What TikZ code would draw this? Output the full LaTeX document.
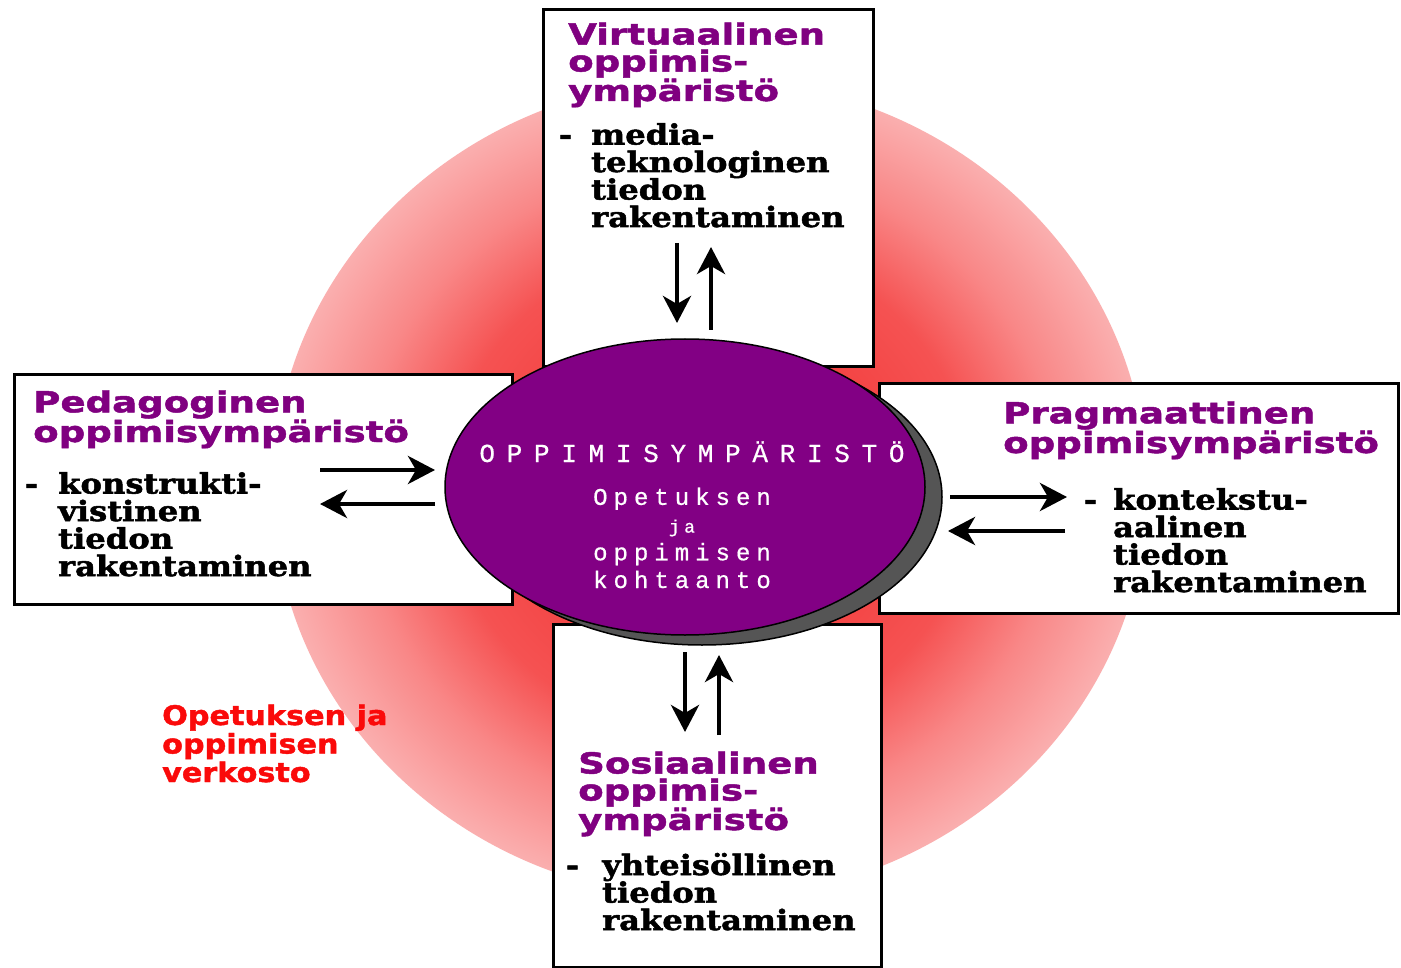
\documentclass[tikz,border=0pt]{standalone}
\usepackage{fontspec}
\usetikzlibrary{arrows.meta,shapes.geometric}
\newfontfamily\ttlfont[FakeStretch=1.28,FakeBold=1.6]{DejaVu Sans}
\newfontfamily\redfont[FakeStretch=1.12,FakeBold=1.6]{DejaVu Sans}
\newfontfamily\bodyfont[FakeStretch=1.15,FakeBold=1.8]{DejaVu Serif}
\newfontfamily\ctrfontA[LetterSpace=45,FakeBold=0.6]{Liberation Mono}
\newfontfamily\ctrfontB[LetterSpace=25,FakeBold=0.6]{Liberation Mono}
\definecolor{ttlpurple}{RGB}{128,0,128}
\definecolor{corepurple}{RGB}{130,0,132}
\definecolor{shadowgray}{RGB}{85,85,85}
\definecolor{glowA}{RGB}{240,40,40}
\definecolor{glowB}{RGB}{245,82,82}
\definecolor{glowC}{RGB}{249,135,135}
\definecolor{glowD}{RGB}{250,175,175}
\definecolor{txtred}{RGB}{250,10,10}
\pgfdeclareradialshading{glow}{\pgfpoint{0bp}{0bp}}{color(0bp)=(glowA); color(15bp)=(glowB); color(20bp)=(glowC); color(25bp)=(glowD); color(50bp)=(glowD)}
\begin{document}
\begin{tikzpicture}[x=1pt,y=-1pt,
  box/.style={draw=black, line width=3pt, fill=white, anchor=north west, inner sep=0pt},
  ttl/.style={font=\ttlfont\bfseries\fontsize{29}{27}\selectfont, text=ttlpurple, align=left, inner sep=0pt, anchor=base west},
  bodytxt/.style={font=\bodyfont\bfseries\fontsize{28}{27.5}\selectfont, text=black, align=left, inner sep=0pt, anchor=base west},
  redtxt/.style={font=\redfont\bfseries\fontsize{27}{28.5}\selectfont, text=txtred, align=left, inner sep=0pt, anchor=base west},
  arr/.style={line width=4.5pt, -{Stealth[length=27pt,width=28pt,inset=8pt]}},
  core/.style={ellipse, draw=black, line width=1.5pt, minimum width=480pt, minimum height=296pt, inner sep=0pt}]
\useasboundingbox (0,0) rectangle (1401,968);
\fill[white] (0,0) rectangle (1401,968);
% background glow
\shade[shading=glow] (710,489) ellipse [x radius=437, y radius=410];
% boxes
\node[box, minimum width=330pt, minimum height=357pt] (topbox) at (542,8) {};
\node[box, minimum width=498pt, minimum height=230pt] (leftbox) at (13,373) {};
\node[box, minimum width=519pt, minimum height=230pt] (rightbox) at (878,382) {};
\node[box, minimum width=328pt, minimum height=343pt] (bottombox) at (552,623) {};
% texts (anchor = baseline of the last line)
\node[ttl] (vtitle) at (568,101) {Virtuaalinen\\oppimis-\\ympäristö};
\node[bodytxt] (vbody) at (591,227) {\llap{-\hspace{19pt}}media-\\teknologinen\\tiedon\\rakentaminen};
\node[ttl] (ptitle) at (33,442) {Pedagoginen\\oppimisympäristö};
\node[bodytxt] (pbody) at (58,576) {\llap{-\hspace{20pt}}konstrukti-\\vistinen\\tiedon\\rakentaminen};
\node[ttl] (rtitle) at (1003,453) {Pragmaattinen\\oppimisympäristö};
\node[bodytxt] (rbody) at (1113,592) {\llap{-\hspace{16pt}}kontekstu-\\aalinen\\tiedon\\rakentaminen};
\node[ttl] (stitle) at (578,830) {Sosiaalinen\\oppimis-\\ympäristö};
\node[bodytxt] (sbody) at (602,930) {\llap{-\hspace{23pt}}yhteisöllinen\\tiedon\\rakentaminen};
\node[redtxt] (network) at (162,782) {Opetuksen ja\\oppimisen\\verkosto};
% arrows
\coordinate (t1s) at (677,243); \coordinate (t1e) at (677,323);
\coordinate (t2s) at (711,330); \coordinate (t2e) at (711,247);
\coordinate (l1s) at (320,470); \coordinate (l1e) at (435,470);
\coordinate (l2s) at (435,504); \coordinate (l2e) at (320,504);
\coordinate (r1s) at (950,497); \coordinate (r1e) at (1067,497);
\coordinate (r2s) at (1065,531); \coordinate (r2e) at (948,531);
\coordinate (b1s) at (685,652); \coordinate (b1e) at (685,732);
\coordinate (b2s) at (719,735); \coordinate (b2e) at (719,655);
\draw[arr] (t1s) -- (t1e);
\draw[arr] (t2s) -- (t2e);
\draw[arr] (l1s) -- (l1e);
\draw[arr] (l2s) -- (l2e);
\draw[arr] (r1s) -- (r1e);
\draw[arr] (r2s) -- (r2e);
\draw[arr] (b1s) -- (b1e);
\draw[arr] (b2s) -- (b2e);
% central ellipse
\node[core, fill=shadowgray] (coreshadow) at (702,497) {};
\node[core, fill=corepurple] (corenode) at (685,487) {};
\node[font=\ctrfontA\fontsize{26}{27}\selectfont, text=white, inner sep=0pt, anchor=base] (ctitle) at (692,462) {OPPIMISYMPÄRISTÖ};
\node[font=\ctrfontB\fontsize{24}{27.7}\selectfont, text=white, inner sep=0pt, anchor=base, align=center] (ctext) at (682,588) {Opetuksen\\{\fontsize{18}{27.7}\selectfont ja}\\oppimisen\\kohtaanto};
\end{tikzpicture}
\end{document}
